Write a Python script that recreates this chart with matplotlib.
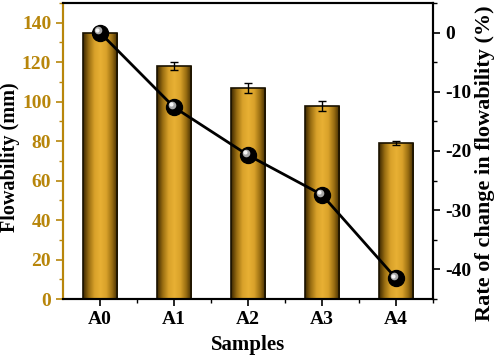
import numpy as np
import matplotlib
matplotlib.use("Agg")
import matplotlib.pyplot as plt
import matplotlib.transforms as mtransforms
from matplotlib.colors import LinearSegmentedColormap
from matplotlib.ticker import MultipleLocator

samples = ["A0", "A1", "A2", "A3", "A4"]
flowability = [135, 118, 107, 98, 79]
flow_err = [0, 2, 2.5, 2.5, 1]
rate_change = [0.0, -12.6, -20.7, -27.4, -41.5]

plt.rcParams['font.family'] = ['Liberation Serif', 'DejaVu Serif']
plt.rcParams['font.weight'] = 'bold'
plt.rcParams['axes.unicode_minus'] = False

gold = '#B8860B'
fig = plt.figure(figsize=(4.98, 3.56), dpi=100)
ax = fig.add_axes([63/498, 1-299/356, 370/498, 296/356])
x = np.arange(len(samples))
bars = ax.bar(x, flowability, width=0.46, color='none', edgecolor='#1a1200', linewidth=1.2,
              yerr=flow_err, capsize=3, error_kw=dict(elinewidth=1, capthick=1, ecolor='black'), zorder=3)

cmap = LinearSegmentedColormap.from_list('g', ['#3a2600', '#9a6e12', '#d9a22a', '#e8b034', '#d9a22a', '#9a6e12', '#3a2600'])
grad = np.linspace(0, 1, 256).reshape(1, -1)
for b in bars:
    bx, by = b.get_x(), b.get_y()
    w, h = b.get_width(), b.get_height()
    im = ax.imshow(grad, cmap=cmap, extent=[bx, bx + w, by, by + h], aspect='auto', zorder=2)
    im.set_clip_path(b)

ax.set_xlim(-0.5, 4.5)
ax.set_ylim(0, 150)
ax.set_xticks(x)
ax.set_xticklabels(samples, fontsize=14, fontweight='bold')
ax.set_xticks(x + 0.5, minor=True)
ax.yaxis.set_major_locator(MultipleLocator(20))
ax.yaxis.set_minor_locator(MultipleLocator(10))
ax.tick_params(axis='both', which='both', direction='out')
ax.tick_params(axis='y', which='major', length=5, width=1.2, colors=gold, labelsize=14)
ax.tick_params(axis='y', which='minor', length=3, width=1.0, colors=gold)
ax.tick_params(axis='x', which='major', length=5, width=1.2, labelsize=14)
ax.tick_params(axis='x', which='minor', length=3, width=1.0)
for lab in ax.get_yticklabels():
    lab.set_fontweight('bold')
ax.spines['left'].set_color(gold)
ax.spines['left'].set_linewidth(1.5)
for s in ['top', 'bottom', 'right']:
    ax.spines[s].set_linewidth(1.5)
ax.set_ylabel('Flowability (mm)', fontsize=14.5, fontweight='bold')
ax.yaxis.set_label_coords(-0.116, 0.48)
ax.set_xlabel('Samples', fontsize=15, fontweight='bold', labelpad=5)

ax2 = ax.twinx()
ax2.set_ylim(-45, 5)
ax2.yaxis.set_major_locator(MultipleLocator(10))
ax2.yaxis.set_minor_locator(MultipleLocator(5))
ax2.tick_params(axis='y', which='major', direction='out', length=5, width=1.2, labelsize=14)
ax2.tick_params(axis='y', which='minor', direction='out', length=3, width=1.0)
for lab in ax2.get_yticklabels():
    lab.set_fontweight('bold')
for s in ax2.spines.values():
    s.set_linewidth(1.5)
ax2.spines['left'].set_color(gold)
ax2.plot(x, rate_change, color='black', linewidth=2, marker='o', markersize=11.5,
         markerfacecolor='black', markeredgecolor='black', zorder=5)
off = mtransforms.ScaledTranslation(-1.6/72, 1.6/72, fig.dpi_scale_trans)
ax2.plot(x, rate_change, linestyle='none', marker='o', markersize=5.5,
         markerfacecolor='#a8a8a8', markeredgecolor='none',
         transform=ax2.transData + off, zorder=6)
off2 = mtransforms.ScaledTranslation(-2.0/72, 2.0/72, fig.dpi_scale_trans)
ax2.plot(x, rate_change, linestyle='none', marker='o', markersize=3.0,
         markerfacecolor='#f4f4f4', markeredgecolor='none',
         transform=ax2.transData + off2, zorder=7)
ax2.set_ylabel('Rate of change in flowability (%)', fontsize=16, fontweight='bold')
ax2.yaxis.set_label_coords(1.113, 0.46)

fig.savefig('out.png', dpi=100)
